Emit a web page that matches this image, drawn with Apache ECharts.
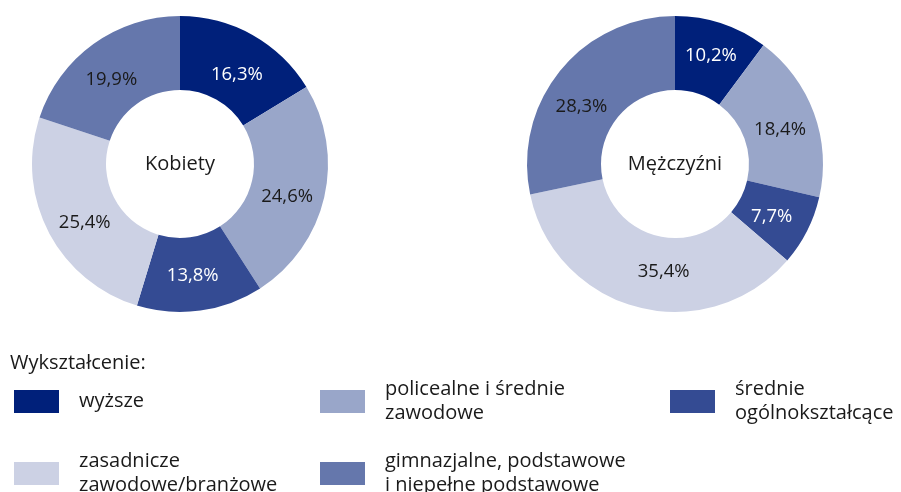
<!DOCTYPE html>
<html>
<head>
<meta charset="utf-8">
<script src="https://cdn.jsdelivr.net/npm/echarts@6/dist/echarts.min.js"></script>
<style>html,body{margin:0;padding:0;background:#fff}#c{width:901px;height:492px}</style>
</head>
<body>
<div id="c"></div>
<script>
const categories = ['wyższe', 'policealne i średnie zawodowe', 'średnie ogólnokształcące', 'zasadnicze zawodowe/branżowe', 'gimnazjalne, podstawowe i niepełne podstawowe'];
const legendLabels = ['wyższe', 'policealne i średnie\nzawodowe', 'średnie\nogólnokształcące', 'zasadnicze\nzawodowe/branżowe', 'gimnazjalne, podstawowe\ni niepełne podstawowe'];
const colors = ['#00207A', '#99A6C9', '#344B93', '#CCD1E4', '#6577AC'];
const labelColors = ['#ffffff', '#1a1a1a', '#ffffff', '#1a1a1a', '#1a1a1a'];
const kobiety = [16.3, 24.6, 13.8, 25.4, 19.9];
const mezczyzni = [10.2, 18.4, 7.7, 35.4, 28.3];
const pieTitles = ['Kobiety', 'Mężczyźni'];
const legendTitle = 'Wykształcenie:';
// label nudges (styling only)
const offsetsK = [[1, 10], [-4, 7], [-3, -1], [6, 6], [-2, 8]];
const offsetsM = [[0, 0], [-2, 5], [-5, 1], [17, -3], [-5, 15]];

const FONT = '"Open Sans", "Noto Sans", sans-serif';
const chart = echarts.init(document.getElementById('c'), null, {renderer: 'canvas'});

function pieData(vals, offs) {
  return vals.map((v, i) => ({
    name: categories[i], value: v,
    itemStyle: {color: colors[i]},
    label: {color: labelColors[i], offset: offs[i]}
  }));
}
function pieSeries(vals, cx, offs) {
  return {
    type: 'pie', radius: [74, 148], center: [cx, 164], startAngle: 90, clockwise: true,
    avoidLabelOverlap: false, silent: true,
    label: {show: true, position: 'inside', fontFamily: FONT, fontSize: 18.5,
      formatter: p => p.value.toFixed(1).replace('.', ',') + '%'},
    labelLine: {show: false},
    itemStyle: {borderWidth: 0},
    data: pieData(vals, offs)
  };
}
const legendPos = [[14, 390], [320, 390], [670, 390], [14, 462], [320, 462]];
const legends = categories.map((c, i) => {
  const multi = legendLabels[i].indexOf('\n') >= 0;
  return {
    data: [c], left: legendPos[i][0], top: legendPos[i][1] - (multi ? 12.5 : 0.5), orient: 'vertical',
    icon: 'rect', itemWidth: 45, itemHeight: 23, itemGap: 0, padding: 0, selectedMode: false,
    formatter: () => legendLabels[i],
    textStyle: {fontFamily: FONT, fontSize: 20, color: '#1a1a1a', lineHeight: 24, padding: [0, 0, 0, 15]}
  };
});

chart.setOption({
  animation: false,
  title: {text: legendTitle, left: 10, top: 353, padding: 0,
    textStyle: {fontFamily: FONT, fontSize: 20, fontWeight: 'normal', color: '#1a1a1a'}},
  legend: legends,
  graphic: [
    {type: 'text', x: 180, y: 164, style: {text: pieTitles[0], align: 'center', verticalAlign: 'middle', font: '20px ' + FONT, fill: '#1a1a1a'}},
    {type: 'text', x: 675, y: 164, style: {text: pieTitles[1], align: 'center', verticalAlign: 'middle', font: '20px ' + FONT, fill: '#1a1a1a'}}
  ],
  series: [pieSeries(kobiety, 180, offsetsK), pieSeries(mezczyzni, 675, offsetsM)]
});
</script>
</body>
</html>
